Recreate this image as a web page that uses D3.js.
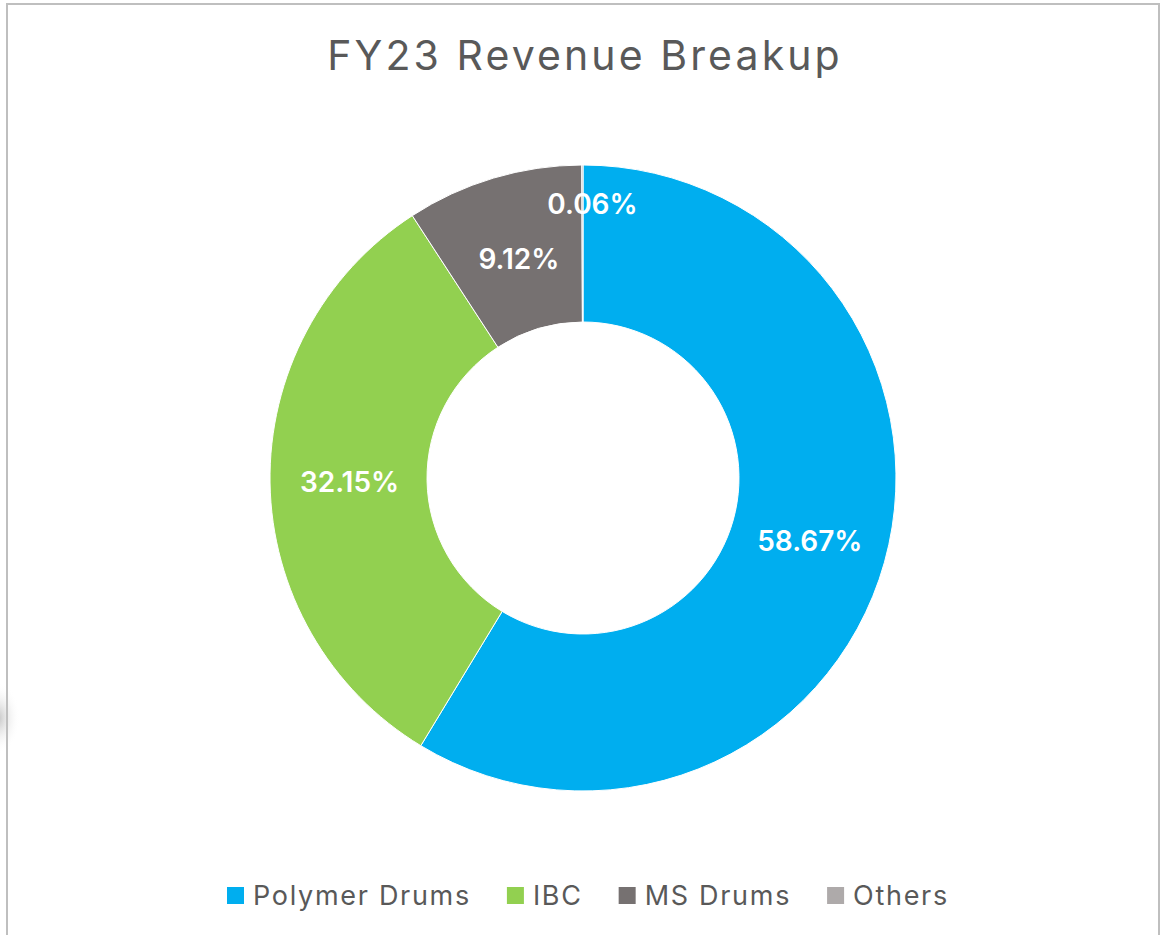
<!DOCTYPE html>
<html><head><meta charset="utf-8">
<script src="https://cdn.jsdelivr.net/npm/d3@7"></script>
<style>html,body{margin:0;padding:0;background:#fff;}svg{display:block;}</style>
</head><body>
<svg id="chart" width="1170" height="935"></svg>
<script>
const categories = ["Polymer Drums", "IBC", "MS Drums", "Others"];
const values = [58.67, 32.15, 9.12, 0.06];
const labels = ["58.67%", "32.15%", "9.12%", "0.06%"];
const colors = ["#00AEEF", "#92D050", "#767171", "#AEAAAA"];
const title = "FY23 Revenue Breakup";

const svg = d3.select("#chart");
const FONT = "Inter, 'Open Sans', sans-serif";

// shadow artifact on left edge
const defs = svg.append("defs");
const rg = defs.append("radialGradient").attr("id","sh");
rg.append("stop").attr("offset","0%").attr("stop-color","#bdbdbd").attr("stop-opacity",0.9);
rg.append("stop").attr("offset","100%").attr("stop-color","#ffffff").attr("stop-opacity",0);
svg.append("ellipse").attr("cx",-2).attr("cy",718).attr("rx",22).attr("ry",36).attr("fill","url(#sh)");

// frame
svg.append("rect").attr("x",7).attr("y",4).attr("width",1152).attr("height",960)
  .attr("fill","none").attr("stroke","#BFBFBF").attr("stroke-width",2);

svg.append("text").attr("x",585).attr("y",70).attr("text-anchor","middle")
  .attr("font-family",FONT).attr("font-size",41).attr("fill","#595959")
  .attr("letter-spacing",3.1).text(title);

const cx = 583, cy = 478, rOut = 313, rIn = 156;
const pie = d3.pie().sort(null).value(d => d)(values);
const arc = d3.arc().innerRadius(rIn).outerRadius(rOut);
const g = svg.append("g").attr("transform",`translate(${cx},${cy})`);
g.selectAll("path").data(pie).enter().append("path")
  .attr("d", arc).attr("fill",(d,i)=>colors[i]).attr("stroke","#fff").attr("stroke-width",1);

const labelArc = d3.arc().innerRadius(rIn).outerRadius(rOut);
const othersArc = d3.arc().innerRadius(274).outerRadius(274);
g.selectAll("text.lbl").data(pie).enter().append("text")
  .attr("class","lbl")
  .attr("transform",(d,i)=>{
    const c = i===3 ? othersArc.centroid(d) : labelArc.centroid(d);
    const dx = i===3 ? 10 : (i===2 ? 3 : 1);
    const dy = i===2 ? 6 : 0;
    return `translate(${c[0]+dx},${c[1]+dy})`;
  })
  .attr("text-anchor","middle").attr("dy","0.36em")
  .attr("font-family",FONT).attr("font-weight",600)
  .attr("font-size",28).attr("fill","#fff").text((d,i)=>labels[i]);

// legend
const leg = svg.append("g");
let x = 227;
categories.forEach((c,i)=>{
  leg.append("rect").attr("x",x).attr("y",887).attr("width",17).attr("height",17).attr("fill",colors[i]);
  const t = leg.append("text").attr("x",x+26).attr("y",905)
    .attr("font-family",FONT).attr("font-size",27).attr("fill","#595959")
    .attr("letter-spacing",1.7).text(c);
  x = x + 26 + t.node().getComputedTextLength() + 36;
});
</script>
</body></html>
